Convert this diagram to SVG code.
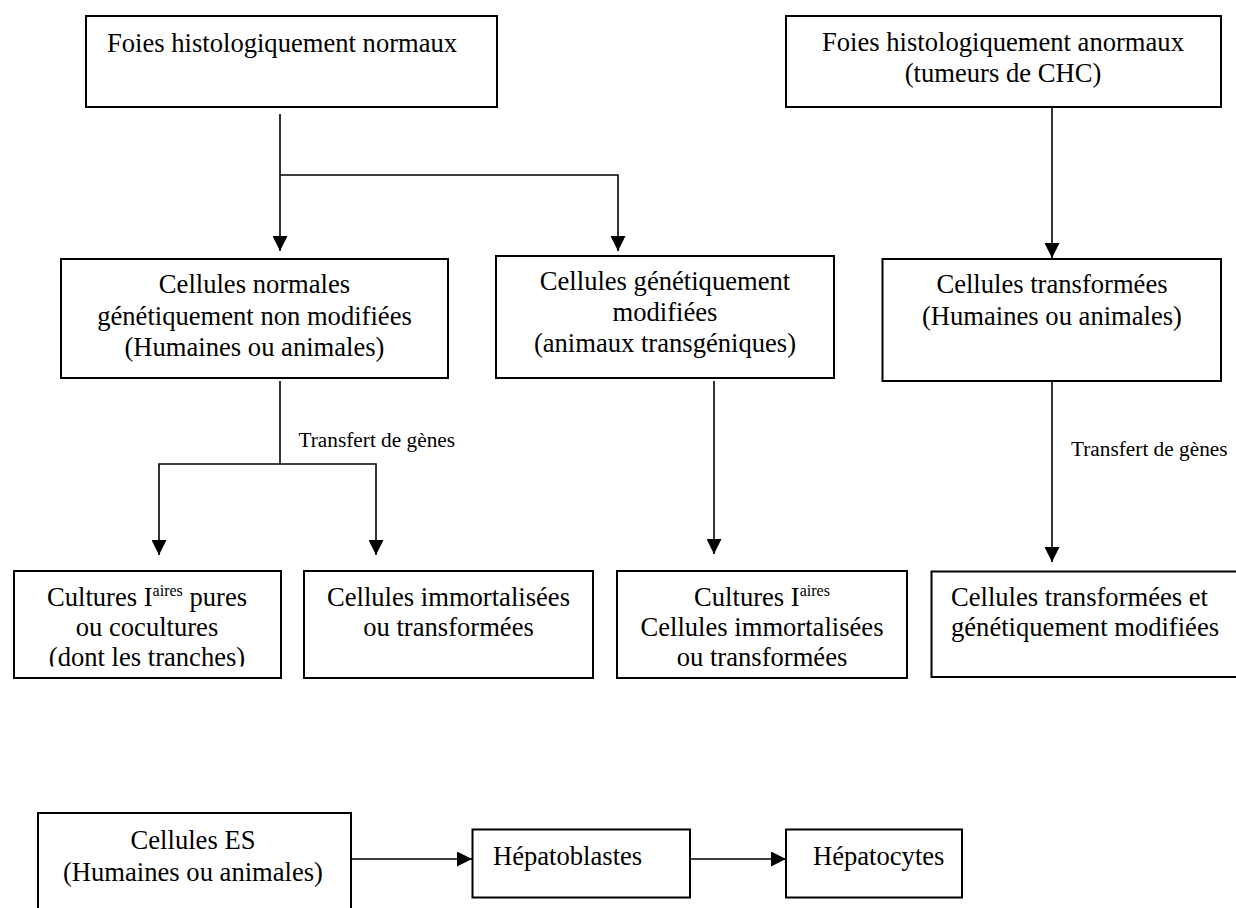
<svg xmlns="http://www.w3.org/2000/svg" width="1236" height="908" viewBox="0 0 1236 908" font-family="Liberation Serif, serif">
<style>
.box{fill:#fff;stroke:#000;stroke-width:2}
.t{font-size:26.6px;fill:#000}
.c{text-anchor:middle}
.lbl{font-size:21.3px;fill:#000}
.sup{font-size:16px}
.con{fill:none;stroke:#000;stroke-width:1.6}
</style>
<defs>
<marker id="arr" markerUnits="userSpaceOnUse" markerWidth="15" markerHeight="15" refX="15" refY="7.5" orient="auto">
<path d="M0,0 L15,7.5 L0,15 Z" fill="#000"/>
</marker>
<clipPath id="clipF"><rect x="14" y="572" width="266" height="94.5"/></clipPath>
</defs>
<rect width="1236" height="908" fill="#fff"/>

<g id="connectors">
<path class="con" d="M280,114 V251" marker-end="url(#arr)"/>
<path class="con" d="M280,175 H618 V251" marker-end="url(#arr)"/>
<path class="con" d="M1052,107 V258" marker-end="url(#arr)"/>
<path class="con" d="M280,381 V464"/>
<path class="con" d="M280,464 H159 V555" marker-end="url(#arr)"/>
<path class="con" d="M280,464 H376 V555" marker-end="url(#arr)"/>
<path class="con" d="M714,381 V554" marker-end="url(#arr)"/>
<path class="con" d="M1052,381 V562" marker-end="url(#arr)"/>
<path class="con" d="M351,859 H472" marker-end="url(#arr)"/>
<path class="con" d="M690,859 H786" marker-end="url(#arr)"/>
<text class="lbl" font-family="Liberation Serif, serif" x="298.5" y="447">Transfert de gènes</text>
<text class="lbl" font-family="Liberation Serif, serif" x="1071" y="456">Transfert de gènes</text>
</g>

<g id="node-foies-normaux" font-family="Liberation Serif, serif">
<rect class="box" x="86" y="16" width="411" height="91"/>
<text class="t" x="107" y="52">Foies histologiquement normaux</text>
</g>

<g id="node-foies-anormaux" font-family="Liberation Serif, serif">
<rect class="box" x="786" y="16" width="435" height="91"/>
<text class="t c" x="1003" y="51">Foies histologiquement anormaux</text>
<text class="t c" x="1003" y="82">(tumeurs de CHC)</text>
</g>

<g id="node-cellules-normales" font-family="Liberation Serif, serif">
<rect class="box" x="61" y="259" width="387" height="119"/>
<text class="t c" x="254.5" y="293">Cellules normales</text>
<text class="t c" x="254.5" y="325">génétiquement non modifiées</text>
<text class="t c" x="254.5" y="356">(Humaines ou animales)</text>
</g>

<g id="node-cellules-gm" font-family="Liberation Serif, serif">
<rect class="box" x="496" y="256" width="338" height="122"/>
<text class="t c" x="665" y="290">Cellules génétiquement</text>
<text class="t c" x="665" y="321">modifiées</text>
<text class="t c" x="665" y="352">(animaux transgéniques)</text>
</g>

<g id="node-cellules-transformees" font-family="Liberation Serif, serif">
<rect class="box" x="882.5" y="259" width="338.5" height="122"/>
<text class="t c" x="1052" y="293">Cellules transformées</text>
<text class="t c" x="1052" y="325">(Humaines ou animales)</text>
</g>

<g id="node-cultures-pures" font-family="Liberation Serif, serif">
<rect class="box" x="14" y="571" width="267" height="107"/>
<g clip-path="url(#clipF)">
<text class="t c" x="147" y="606">Cultures I<tspan class="sup" dy="-10">aires</tspan><tspan dy="10"> pures</tspan></text>
<text class="t c" x="147" y="636">ou cocultures</text>
<text class="t c" x="147" y="666">(dont les tranches)</text>
</g>
</g>

<g id="node-cellules-immortalisees" font-family="Liberation Serif, serif">
<rect class="box" x="304" y="571" width="289" height="107"/>
<text class="t c" x="448.5" y="606">Cellules immortalisées</text>
<text class="t c" x="448.5" y="635.5">ou transformées</text>
</g>

<g id="node-cultures-gm" font-family="Liberation Serif, serif">
<rect class="box" x="617" y="571" width="290" height="107"/>
<text class="t c" x="762" y="606">Cultures I<tspan class="sup" dy="-10">aires</tspan></text>
<text class="t c" x="762" y="636">Cellules immortalisées</text>
<text class="t c" x="762" y="666">ou transformées</text>
</g>

<g id="node-transformees-gm" font-family="Liberation Serif, serif">
<rect class="box" x="931.5" y="571.5" width="320" height="105.5"/>
<text class="t" x="951" y="606">Cellules transformées et</text>
<text class="t" x="951" y="636">génétiquement modifiées</text>
</g>

<g id="node-cellules-es" font-family="Liberation Serif, serif">
<rect class="box" x="38" y="813" width="313" height="120"/>
<text class="t c" x="193" y="849">Cellules ES</text>
<text class="t c" x="193" y="881">(Humaines ou animales)</text>
</g>

<g id="node-hepatoblastes" font-family="Liberation Serif, serif">
<rect class="box" x="472.5" y="829.5" width="217.5" height="68"/>
<text class="t" x="493" y="865">Hépatoblastes</text>
</g>

<g id="node-hepatocytes" font-family="Liberation Serif, serif">
<rect class="box" x="786" y="829.5" width="176" height="68"/>
<text class="t" x="813" y="865">Hépatocytes</text>
</g>
</svg>
